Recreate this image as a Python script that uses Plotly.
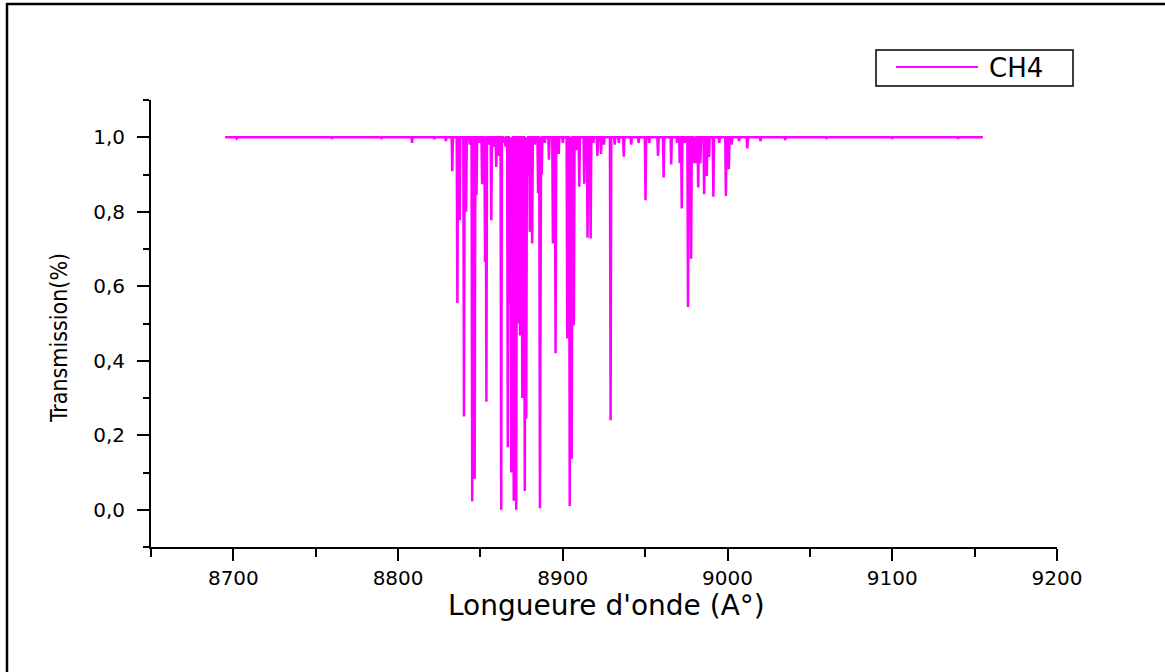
import plotly.graph_objects as go

# ---------------- data ----------------
series_name = "CH4"
wavelength_start = 8695.0
wavelength_end = 9155.0

# absorption line centres (Angstrom) and their minimum transmission
line_wavelengths = [
    8702.0, 8760.0, 8790.0, 8808.5, 8822.0, 8829.0,
    8832.9, 8836.0, 8837.4, 8840.0, 8841.3, 8843.5, 8845.0, 8846.5, 8847.6,
    8849.5, 8851.0, 8852.8, 8853.6, 8855.0, 8856.6, 8858.0, 8859.6, 8861.3,
    8862.6, 8864.2, 8865.2, 8866.6, 8867.6, 8868.7, 8869.5, 8870.2, 8871.0,
    8871.7, 8872.5, 8873.1, 8874.0, 8874.7, 8875.4, 8876.2, 8876.9, 8877.8,
    8878.6, 8880.0, 8881.4, 8883.0, 8885.0, 8886.1, 8887.2, 8889.0, 8891.6,
    8894.0, 8895.6, 8897.5, 8900.0, 8902.7, 8904.2, 8905.4, 8906.7, 8908.5,
    8910.0, 8913.0, 8915.0, 8916.9, 8918.5, 8921.0, 8923.2, 8925.0, 8929.0,
    8931.5, 8934.0, 8937.0, 8941.5, 8946.0, 8950.2, 8952.5, 8957.8, 8961.2,
    8965.8, 8969.5, 8971.0, 8972.2, 8974.0, 8976.0, 8977.9, 8979.5, 8980.5,
    8982.2, 8983.5, 8985.8, 8987.4, 8988.8, 8991.4, 8995.0, 8999.0, 9000.8,
    9002.5, 9007.0, 9012.0, 9020.0, 9035.0, 9060.0, 9100.0, 9140.0,
]
line_transmission = [
    0.997, 0.996, 0.996, 0.985, 0.995, 0.990,
    0.909, 0.555, 0.777, 0.250, 0.800, 0.980, 0.022, 0.083, 0.845,
    0.985, 0.874, 0.665, 0.290, 0.980, 0.777, 0.975, 0.920, 0.950,
    0.000, 0.985, 0.975, 0.168, 0.550, 0.100, 0.500, 0.024, 0.450,
    0.000, 0.500, 0.540, 0.468, 0.520, 0.300, 0.550, 0.050, 0.245,
    0.900, 0.746, 0.715, 0.980, 0.850, 0.004, 0.900, 0.985, 0.940,
    0.715, 0.420, 0.955, 0.985, 0.460, 0.010, 0.137, 0.495, 0.965,
    0.867, 0.875, 0.730, 0.728, 0.985, 0.950, 0.955, 0.980, 0.240,
    0.980, 0.985, 0.948, 0.980, 0.985, 0.831, 0.985, 0.950, 0.892,
    0.927, 0.985, 0.930, 0.809, 0.985, 0.544, 0.674, 0.930, 0.930,
    0.865, 0.930, 0.847, 0.896, 0.947, 0.840, 0.985, 0.842, 0.914,
    0.980, 0.990, 0.970, 0.990, 0.993, 0.996, 0.996, 0.996,
]

x_tick_values = [8700, 8800, 8900, 9000, 9100, 9200]
x_tick_labels = ["8700", "8800", "8900", "9000", "9100", "9200"]
x_minor_values = [8650, 8750, 8850, 8950, 9050, 9150]
y_tick_values = [0.0, 0.2, 0.4, 0.6, 0.8, 1.0]
y_tick_labels = ["0,0", "0,2", "0,4", "0,6", "0,8", "1,0"]
y_minor_values = [-0.1, 0.1, 0.3, 0.5, 0.7, 0.9, 1.1]

x_title = "Longueure d'onde (A°)"
y_title = "Transmission(%)"

# ---------------- build the spectrum path from the line list ----------------
xs = [wavelength_start]
ys = [1.0]
for w, t in sorted(zip(line_wavelengths, line_transmission)):
    xs += [w - 0.4, w, w + 0.4]
    ys += [1.0, t, 1.0]
xs.append(wavelength_end)
ys.append(1.0)

MAGENTA = "#FF00FF"

fig = go.Figure()
fig.add_trace(go.Scatter(
    x=xs, y=ys, mode="lines", name=series_name,
    line=dict(color=MAGENTA, width=2.5), showlegend=False,
))

# ---------------- layout ----------------
W, H = 1165, 672
L, R, T, B = 151, 108, 100, 125
pw, ph = W - L - R, H - T - B


def px(xp):
    return (xp - L) / pw


def py(yp):
    return (H - B - yp) / ph


tick_font = dict(family="DejaVu Sans, Arial, sans-serif", size=20, color="black")

fig.update_layout(
    width=W, height=H,
    margin=dict(l=L, r=R, t=T, b=B, pad=0),
    paper_bgcolor="white", plot_bgcolor="white",
    showlegend=False,
    xaxis=dict(
        range=[8650, 9200], showgrid=False, zeroline=False,
        showline=True, linecolor="black", linewidth=2,
        ticks="outside", ticklen=12, tickwidth=2, tickcolor="black",
        tickvals=x_tick_values, ticktext=x_tick_labels, tickfont=tick_font,
        minor=dict(tickvals=x_minor_values, ticks="outside", ticklen=8,
                   tickwidth=2, tickcolor="black"),
    ),
    yaxis=dict(
        range=[-0.1, 1.1], showgrid=False, zeroline=False,
        showline=True, linecolor="black", linewidth=2,
        ticks="outside", ticklen=12, tickwidth=2, tickcolor="black",
        tickvals=y_tick_values, ticktext=y_tick_labels, tickfont=tick_font,
        ticklabelstandoff=8,
        minor=dict(tickvals=y_minor_values, ticks="outside", ticklen=6,
                   tickwidth=2, tickcolor="black"),
    ),
    annotations=[
        dict(text=x_title, xref="paper", yref="paper", x=px(606.5), y=py(605),
             xanchor="center", yanchor="middle", showarrow=False,
             font=dict(family="DejaVu Sans, Arial, sans-serif", size=28, color="black")),
        dict(text=y_title, xref="paper", yref="paper", x=px(58.5), y=py(338.5),
             xanchor="center", yanchor="middle", showarrow=False, textangle=-90,
             font=dict(family="DejaVu Sans Condensed, sans-serif",
                       size=23, color="black")),
        dict(text=series_name, xref="paper", yref="paper", x=px(987), y=py(68),
             xanchor="left", yanchor="middle", showarrow=False,
             font=dict(family="DejaVu Sans, Arial, sans-serif", size=26, color="black")),
    ],
    shapes=[
        # legend box and sample line
        dict(type="rect", xref="paper", yref="paper",
             x0=px(876), x1=px(1073), y0=py(86), y1=py(50),
             line=dict(color="black", width=1.5), fillcolor="rgba(0,0,0,0)"),
        dict(type="line", xref="paper", yref="paper",
             x0=px(896), x1=px(978), y0=py(67), y1=py(67),
             line=dict(color=MAGENTA, width=2)),
        # outer frame (top and left edges visible)
        dict(type="line", xref="paper", yref="paper",
             x0=px(6), x1=px(1175), y0=py(4), y1=py(4),
             line=dict(color="black", width=2.5)),
        dict(type="line", xref="paper", yref="paper",
             x0=px(7), x1=px(7), y0=py(3), y1=py(690),
             line=dict(color="black", width=2.5)),
    ],
)

fig.write_html(
    "out.html",
    config={"displayModeBar": False},
    post_script="document.body.style.margin='0';document.body.style.overflow='hidden';",
)
